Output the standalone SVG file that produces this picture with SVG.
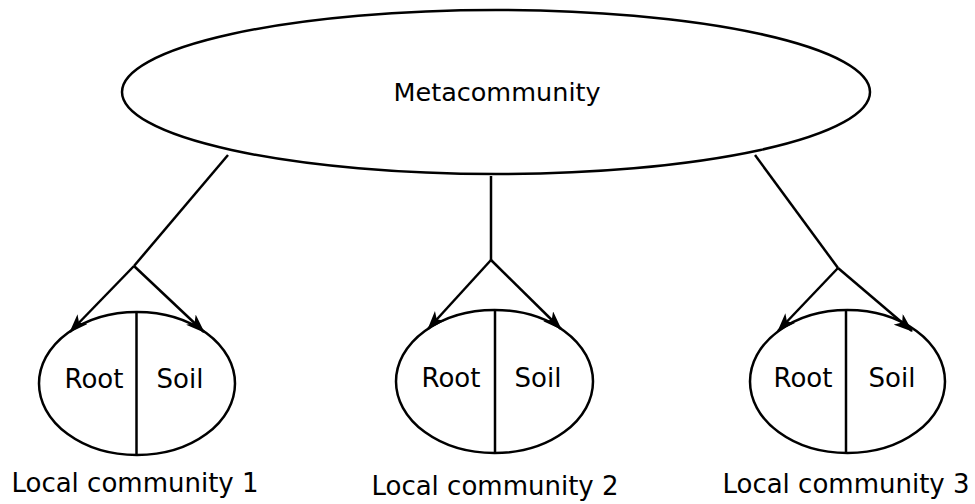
<svg xmlns="http://www.w3.org/2000/svg" width="975" height="504" viewBox="0 0 975 504">
<style>
.shape{fill:#fff;stroke:#000;stroke-width:2.5}
.div{stroke:#000;stroke-width:2.5}
.edge{fill:none;stroke:#000;stroke-width:2.5}
text{font-family:"DejaVu Sans","Liberation Sans",sans-serif;fill:#000;text-anchor:middle}
.meta{font-size:25.5px}
.lbl{font-size:26px}
.cap{font-size:26px}
</style>
<defs>
<marker id="arr" viewBox="0 0 19 14" refX="18" refY="7" markerWidth="19" markerHeight="14" markerUnits="userSpaceOnUse" orient="auto">
<path d="M0,0 L19,7 L0,14 L5,7 z" fill="#000"/>
</marker>
</defs>
<g id="metacommunity">
<ellipse class="shape" cx="496" cy="92" rx="374" ry="82"/>
<text class="meta" x="497" y="101">Metacommunity</text>
</g>
<g id="local1">
<ellipse class="shape" cx="137" cy="383.5" rx="98" ry="71.5"/>
<line class="div" x1="136.5" y1="312" x2="136.5" y2="455"/>
<text class="lbl" x="94" y="388">Root</text>
<text class="lbl" x="180" y="388">Soil</text>
<text class="cap" x="135" y="492">Local community 1</text>
</g>
<g id="local2">
<ellipse class="shape" cx="494.5" cy="381.5" rx="98.5" ry="71.5"/>
<line class="div" x1="495" y1="310" x2="495" y2="453"/>
<text class="lbl" x="451" y="387">Root</text>
<text class="lbl" x="538" y="387">Soil</text>
<text class="cap" x="495" y="495">Local community 2</text>
</g>
<g id="local3">
<ellipse class="shape" cx="847.5" cy="381.5" rx="97.5" ry="71.5"/>
<line class="div" x1="846" y1="310" x2="846" y2="453"/>
<text class="lbl" x="803" y="387">Root</text>
<text class="lbl" x="892" y="387">Soil</text>
<text class="cap" x="846" y="493">Local community 3</text>
</g>
<g id="connectors">
<polyline class="edge" points="228,155 134,266"/>
<polyline class="edge" points="134,266 70,332" marker-end="url(#arr)"/>
<polyline class="edge" points="134,266 204,332" marker-end="url(#arr)"/>
<polyline class="edge" points="491,176 491,260"/>
<polyline class="edge" points="491,260 428,329" marker-end="url(#arr)"/>
<polyline class="edge" points="491,260 561,329" marker-end="url(#arr)"/>
<polyline class="edge" points="755,155 838,268"/>
<polyline class="edge" points="838,268 778,331" marker-end="url(#arr)"/>
<polyline class="edge" points="838,268 912,331" marker-end="url(#arr)"/>
</g>
</svg>
